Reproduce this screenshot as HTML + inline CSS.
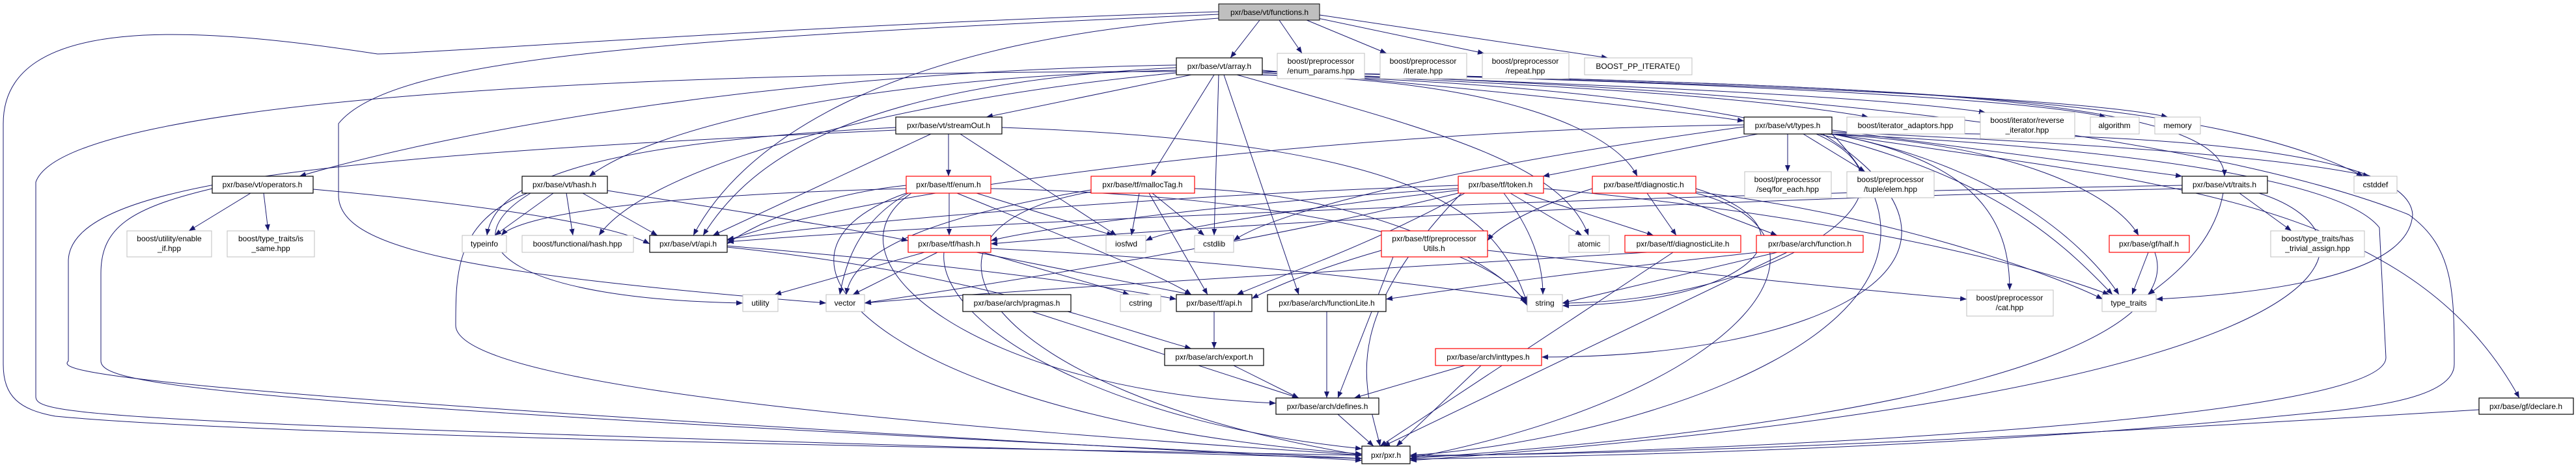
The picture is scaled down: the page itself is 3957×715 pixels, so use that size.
<!DOCTYPE html>
<html><head><meta charset="utf-8"><style>
html,body{margin:0;padding:0;background:#fff;}
svg{display:block;}
text{font-family:"Liberation Sans",Arial,sans-serif;font-size:12px;fill:#000;}
.e{fill:none;stroke:#191970;stroke-width:1;}
.n{fill:#fff;stroke:#000;stroke-width:1.2;}
.g{fill:#fff;stroke:#bfbfbf;stroke-width:1;}
.r{fill:#fff;stroke:#ff0000;stroke-width:1.2;}
</style></head><body>
<svg width="3957" height="715" viewBox="0 0 3957 715" xmlns="http://www.w3.org/2000/svg">
<defs><marker id="a" markerWidth="10" markerHeight="8" refX="10" refY="4" orient="auto" markerUnits="userSpaceOnUse"><path d="M0,0 L10,4 L0,8 z" fill="#191970"/></marker></defs>
<g class="e" marker-end="url(#a)">
<path d="M1935,31 L1890,89"/>
<path d="M1965,31 L2000,82"/>
<path d="M2000,28 L2130,82"/>
<path d="M2010,25 L2280,82"/>
<path d="M2020,22 L2470,89"/>
<path d="M1872,28 C1400,60 1150,200 1065,362"/>
<path d="M1872,18 C1200,40 700,80 580,83 C300,40 5,20 5,190 L5,560 C5,610 30,630 85,640 C400,670 1500,690 2092,700"/>
<path d="M1872,22 C1000,60 600,90 520,190 L520,300 C520,380 700,420 1269,466"/>
<path d="M1830,115 L1515,180"/>
<path d="M1807,100 C1200,110 700,200 460,271"/>
<path d="M1807,108 C1300,120 1000,200 905,271"/>
<path d="M1807,104 C1300,130 1150,250 1080,362"/>
<path d="M1939,108 C2200,130 2500,160 2679,186"/>
<path d="M1865,115 L1768,271"/>
<path d="M1872,115 L1865,362"/>
<path d="M1880,115 L1995,453"/>
<path d="M1900,115 C2200,200 2400,250 2440,362"/>
<path d="M1920,115 C2300,120 2480,200 2515,271"/>
<path d="M1939,112 C2400,130 2700,150 2870,180"/>
<path d="M1939,112 C2500,130 2900,150 3050,173"/>
<path d="M1939,110 C2600,125 3100,150 3235,180"/>
<path d="M1939,110 C2600,125 3200,150 3330,180"/>
<path d="M1939,110 C2800,130 3417,140 3417,271"/>
<path d="M1939,110 C2900,130 3400,150 3630,271"/>
<path d="M1939,115 C2900,140 3100,300 3245,453"/>
<path d="M1807,110 C1000,110 100,150 55,280 L55,610 C55,640 150,650 2092,705"/>
<path d="M1807,112 C1400,150 1000,250 920,362"/>
<path d="M1939,112 C3000,140 3500,250 3700,330 C3770,380 3770,450 3770,560 C3770,620 3600,630 3500,640 C3000,690 2500,700 2166,706"/>
<path d="M1457,206 L1457,271"/>
<path d="M1430,206 L1095,362"/>
<path d="M1475,206 L1715,362"/>
<path d="M1376,196 C900,220 760,280 748,362"/>
<path d="M1539,196 C2200,220 2300,330 2346,466"/>
<path d="M1376,200 C500,240 110,280 105,400 L105,555 C90,570 110,600 2092,708"/>
<path d="M2700,206 L2370,271"/>
<path d="M2746,206 L2746,264"/>
<path d="M2770,206 L2865,264"/>
<path d="M2679,192 C2000,200 1300,300 1117,370"/>
<path d="M2814,200 L3352,271"/>
<path d="M2814,203 C3200,220 3500,240 3640,271"/>
<path d="M2800,206 C3100,220 3250,300 3285,362"/>
<path d="M2814,206 C3050,250 3087,350 3087,446"/>
<path d="M2814,206 C3100,260 3220,400 3255,453"/>
<path d="M2790,206 C3000,300 2700,466 2400,466"/>
<path d="M2800,206 C3100,400 2800,549 2368,549"/>
<path d="M2814,206 C3100,500 2500,680 2166,700"/>
<path d="M2814,206 C3300,280 3700,300 3870,612"/>
<path d="M2679,195 C2200,260 1950,330 1895,370"/>
<path d="M2814,206 C3300,230 3600,280 3655,350 L3665,550 C3665,640 2800,690 2166,702"/>
<path d="M2814,206 C3300,200 3700,230 3706,330 C3700,420 3500,450 3312,460"/>
<path d="M385,297 L290,355"/>
<path d="M405,297 L412,355"/>
<path d="M481,291 C800,320 950,350 998,375"/>
<path d="M326,290 C200,320 155,350 155,420 L155,555 C155,590 300,620 2092,705"/>
<path d="M850,297 L760,362"/>
<path d="M870,297 L880,362"/>
<path d="M895,297 L1010,362"/>
<path d="M933,293 C1100,320 1300,350 1395,370"/>
<path d="M810,297 C700,340 700,420 700,500 C700,600 1500,660 2092,700"/>
<path d="M815,297 C680,380 800,460 1141,466"/>
<path d="M1458,297 L1458,362"/>
<path d="M1392,285 C1250,300 1150,350 1117,375"/>
<path d="M1500,297 L1710,362"/>
<path d="M1395,297 C1320,340 1300,400 1290,453"/>
<path d="M1522,290 C2000,300 2300,380 2346,470"/>
<path d="M1470,297 C1600,350 1780,420 1830,453"/>
<path d="M1400,297 C1250,400 1500,600 1960,620"/>
<path d="M1392,297 C1100,400 1400,650 2092,698"/>
<path d="M1392,290 C1000,300 800,330 770,362"/>
<path d="M1750,297 L1738,362"/>
<path d="M1770,297 L1850,362"/>
<path d="M1765,297 L1855,453"/>
<path d="M1676,292 C1450,330 1310,380 1300,453"/>
<path d="M1835,290 C2100,300 2300,400 2346,468"/>
<path d="M1676,295 C1350,350 1500,600 2092,700"/>
<path d="M2240,285 C1800,300 1300,340 1117,368"/>
<path d="M2240,290 C1900,310 1600,350 1522,370"/>
<path d="M2245,292 C2000,320 1800,350 1760,370"/>
<path d="M2320,297 L2430,362"/>
<path d="M2310,297 C2350,350 2370,400 2370,453"/>
<path d="M2340,297 L2540,362"/>
<path d="M2250,297 C2100,380 1950,430 1900,453"/>
<path d="M2240,297 C1900,380 1500,440 1328,466"/>
<path d="M2245,297 C2050,500 2100,600 2120,686"/>
<path d="M2371,290 C2800,330 3100,400 3240,453"/>
<path d="M2530,297 L2575,362"/>
<path d="M2560,297 L2730,362"/>
<path d="M2446,290 C2350,320 2300,350 2285,370"/>
<path d="M2605,290 C2800,350 2700,466 2400,470"/>
<path d="M2605,295 C2900,330 3150,420 3230,460"/>
<path d="M2605,297 C2850,360 2700,600 2166,705"/>
<path d="M2140,395 L2055,612"/>
<path d="M2285,385 C2600,420 2900,450 3021,460"/>
<path d="M2122,385 C2000,420 1940,450 1923,459"/>
<path d="M2570,388 L2120,686"/>
<path d="M2530,388 C2000,420 1500,450 1328,466"/>
<path d="M2730,388 L2400,466"/>
<path d="M2745,388 L2125,686"/>
<path d="M2700,388 C2400,420 2200,450 2129,460"/>
<path d="M1420,388 L1190,453"/>
<path d="M1440,388 L1310,453"/>
<path d="M1500,388 L1830,453"/>
<path d="M1510,388 L1735,453"/>
<path d="M1522,382 C1900,400 2200,440 2346,460"/>
<path d="M1450,388 C1440,500 1700,650 2092,690"/>
<path d="M1117,378 C1500,410 1700,440 1807,460"/>
<path d="M1117,380 C1500,420 1700,500 1830,536"/>
<path d="M1865,479 L1865,536"/>
<path d="M1585,479 L1995,612"/>
<path d="M1895,562 L1995,612"/>
<path d="M2038,479 L2038,612"/>
<path d="M2250,562 L2080,612"/>
<path d="M2275,562 L2145,686"/>
<path d="M2055,637 L2110,686"/>
<path d="M3808,630 C3000,680 2500,700 2166,700"/>
<path d="M3300,388 L3275,453"/>
<path d="M3310,388 C3350,500 3100,640 2166,705"/>
<path d="M3415,297 C3400,380 3330,430 3300,453"/>
<path d="M3440,297 L3520,355"/>
<path d="M3352,285 C2500,300 1500,340 1117,372"/>
<path d="M3470,297 C3670,360 3680,600 2166,708"/>
<path d="M3352,290 C2500,310 1800,350 1522,375"/>
</g>
<rect x="1872" y="6" width="155" height="25" fill="#bfbfbf" stroke="#000"/><text x="1950" y="23" text-anchor="middle">pxr/base/vt/functions.h</text>
<rect class="n" x="1807" y="89" width="132" height="26"/><text x="1873" y="106" text-anchor="middle">pxr/base/vt/array.h</text>
<rect class="g" x="1962" y="82" width="134" height="39"/><text x="2029" y="98" text-anchor="middle">boost/preprocessor</text><text x="2029" y="113" text-anchor="middle">/enum_params.hpp</text>
<rect class="g" x="2120" y="82" width="133" height="39"/><text x="2186" y="98" text-anchor="middle">boost/preprocessor</text><text x="2186" y="113" text-anchor="middle">/iterate.hpp</text>
<rect class="g" x="2277" y="82" width="133" height="39"/><text x="2343" y="98" text-anchor="middle">boost/preprocessor</text><text x="2343" y="113" text-anchor="middle">/repeat.hpp</text>
<rect class="g" x="2434" y="89" width="165" height="26"/><text x="2516" y="106" text-anchor="middle">BOOST_PP_ITERATE()</text>
<rect class="n" x="1376" y="180" width="163" height="26"/><text x="1457" y="197" text-anchor="middle">pxr/base/vt/streamOut.h</text>
<rect class="n" x="2679" y="180" width="135" height="26"/><text x="2746" y="197" text-anchor="middle">pxr/base/vt/types.h</text>
<rect class="g" x="2837" y="180" width="181" height="26"/><text x="2927" y="197" text-anchor="middle">boost/iterator_adaptors.hpp</text>
<rect class="g" x="3042" y="173" width="145" height="40"/><text x="3114" y="189" text-anchor="middle">boost/iterator/reverse</text><text x="3114" y="204" text-anchor="middle">_iterator.hpp</text>
<rect class="g" x="3211" y="180" width="75" height="26"/><text x="3248" y="197" text-anchor="middle">algorithm</text>
<rect class="g" x="3310" y="180" width="70" height="26"/><text x="3345" y="197" text-anchor="middle">memory</text>
<rect class="n" x="326" y="271" width="155" height="26"/><text x="403" y="288" text-anchor="middle">pxr/base/vt/operators.h</text>
<rect class="n" x="802" y="271" width="131" height="26"/><text x="867" y="288" text-anchor="middle">pxr/base/vt/hash.h</text>
<rect class="r" x="1392" y="271" width="130" height="26"/><text x="1457" y="288" text-anchor="middle">pxr/base/tf/enum.h</text>
<rect class="r" x="1676" y="271" width="159" height="26"/><text x="1755" y="288" text-anchor="middle">pxr/base/tf/mallocTag.h</text>
<rect class="r" x="2240" y="271" width="131" height="26"/><text x="2305" y="288" text-anchor="middle">pxr/base/tf/token.h</text>
<rect class="r" x="2446" y="271" width="159" height="26"/><text x="2525" y="288" text-anchor="middle">pxr/base/tf/diagnostic.h</text>
<rect class="g" x="2680" y="264" width="133" height="40"/><text x="2746" y="280" text-anchor="middle">boost/preprocessor</text><text x="2746" y="295" text-anchor="middle">/seq/for_each.hpp</text>
<rect class="g" x="2837" y="264" width="134" height="40"/><text x="2904" y="280" text-anchor="middle">boost/preprocessor</text><text x="2904" y="295" text-anchor="middle">/tuple/elem.hpp</text>
<rect class="n" x="3352" y="271" width="131" height="26"/><text x="3417" y="288" text-anchor="middle">pxr/base/vt/traits.h</text>
<rect class="g" x="3616" y="271" width="66" height="26"/><text x="3649" y="288" text-anchor="middle">cstddef</text>
<rect class="g" x="195" y="355" width="130" height="40"/><text x="260" y="371" text-anchor="middle">boost/utility/enable</text><text x="260" y="386" text-anchor="middle">_if.hpp</text>
<rect class="g" x="349" y="355" width="134" height="40"/><text x="416" y="371" text-anchor="middle">boost/type_traits/is</text><text x="416" y="386" text-anchor="middle">_same.hpp</text>
<rect class="g" x="710" y="362" width="68" height="26"/><text x="744" y="379" text-anchor="middle">typeinfo</text>
<rect class="g" x="802" y="362" width="171" height="26"/><text x="887" y="379" text-anchor="middle">boost/functional/hash.hpp</text>
<rect class="n" x="998" y="362" width="119" height="26"/><text x="1057" y="379" text-anchor="middle">pxr/base/vt/api.h</text>
<rect class="r" x="1395" y="362" width="127" height="26"/><text x="1458" y="379" text-anchor="middle">pxr/base/tf/hash.h</text>
<rect class="g" x="1699" y="362" width="61" height="26"/><text x="1730" y="379" text-anchor="middle">iosfwd</text>
<rect class="g" x="1835" y="362" width="60" height="26"/><text x="1865" y="379" text-anchor="middle">cstdlib</text>
<rect class="r" x="2122" y="355" width="163" height="40"/><text x="2203" y="371" text-anchor="middle">pxr/base/tf/preprocessor</text><text x="2203" y="386" text-anchor="middle">Utils.h</text>
<rect class="g" x="2410" y="362" width="62" height="26"/><text x="2441" y="379" text-anchor="middle">atomic</text>
<rect class="r" x="2496" y="362" width="178" height="26"/><text x="2585" y="379" text-anchor="middle">pxr/base/tf/diagnosticLite.h</text>
<rect class="r" x="2698" y="362" width="164" height="26"/><text x="2780" y="379" text-anchor="middle">pxr/base/arch/function.h</text>
<rect class="r" x="3240" y="362" width="123" height="26"/><text x="3301" y="379" text-anchor="middle">pxr/base/gf/half.h</text>
<rect class="g" x="3488" y="355" width="144" height="40"/><text x="3560" y="371" text-anchor="middle">boost/type_traits/has</text><text x="3560" y="386" text-anchor="middle">_trivial_assign.hpp</text>
<rect class="g" x="1141" y="453" width="54" height="26"/><text x="1168" y="470" text-anchor="middle">utility</text>
<rect class="g" x="1269" y="453" width="59" height="26"/><text x="1298" y="470" text-anchor="middle">vector</text>
<rect class="n" x="1479" y="453" width="166" height="26"/><text x="1562" y="470" text-anchor="middle">pxr/base/arch/pragmas.h</text>
<rect class="g" x="1721" y="453" width="62" height="26"/><text x="1752" y="470" text-anchor="middle">cstring</text>
<rect class="n" x="1807" y="453" width="116" height="26"/><text x="1865" y="470" text-anchor="middle">pxr/base/tf/api.h</text>
<rect class="n" x="1947" y="453" width="182" height="26"/><text x="2038" y="470" text-anchor="middle">pxr/base/arch/functionLite.h</text>
<rect class="g" x="2346" y="453" width="54" height="26"/><text x="2373" y="470" text-anchor="middle">string</text>
<rect class="g" x="3021" y="446" width="133" height="40"/><text x="3087" y="462" text-anchor="middle">boost/preprocessor</text><text x="3087" y="477" text-anchor="middle">/cat.hpp</text>
<rect class="g" x="3229" y="453" width="83" height="26"/><text x="3270" y="470" text-anchor="middle">type_traits</text>
<rect class="n" x="1789" y="536" width="152" height="26"/><text x="1865" y="553" text-anchor="middle">pxr/base/arch/export.h</text>
<rect class="r" x="2205" y="536" width="163" height="26"/><text x="2286" y="553" text-anchor="middle">pxr/base/arch/inttypes.h</text>
<rect class="n" x="1960" y="612" width="158" height="25"/><text x="2039" y="629" text-anchor="middle">pxr/base/arch/defines.h</text>
<rect class="n" x="3808" y="612" width="145" height="25"/><text x="3880" y="629" text-anchor="middle">pxr/base/gf/declare.h</text>
<rect class="n" x="2092" y="686" width="74" height="27"/><text x="2129" y="704" text-anchor="middle">pxr/pxr.h</text>
</svg>
</body></html>
